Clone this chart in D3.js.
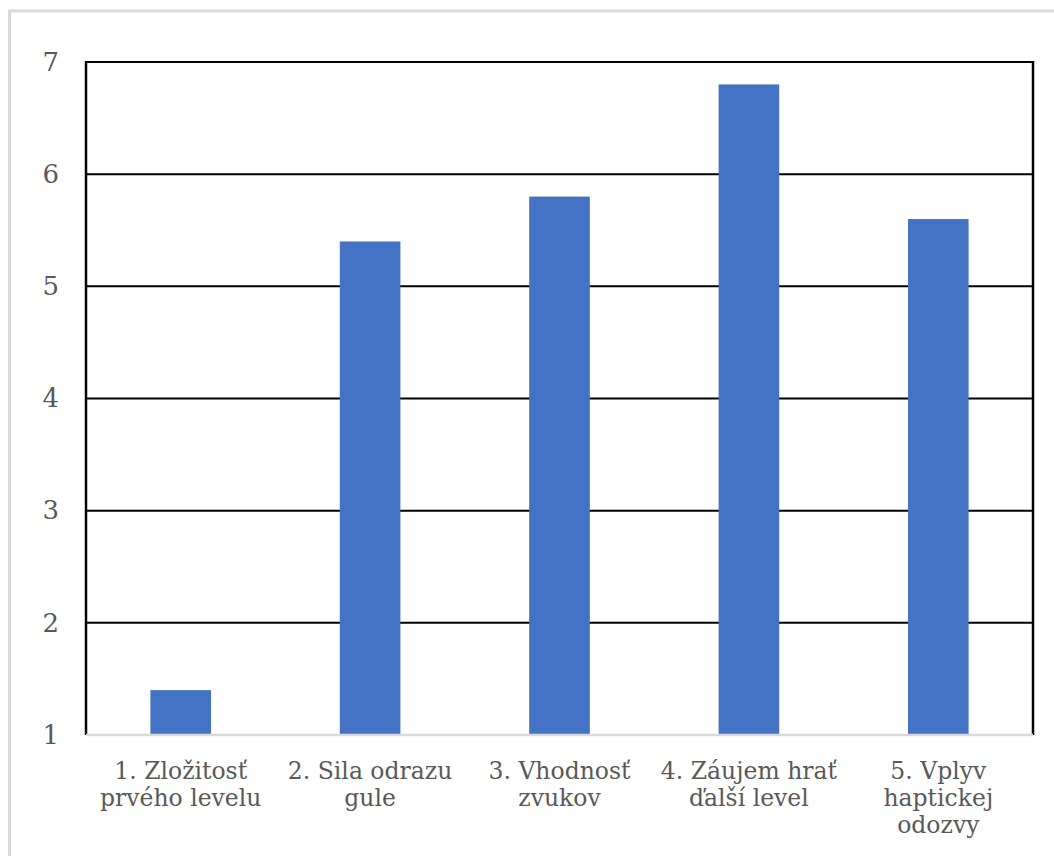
<!DOCTYPE html>
<html>
<head>
<meta charset="utf-8">
<script src="https://cdn.jsdelivr.net/npm/d3@7"></script>
<style>
  body { margin: 0; background: #fff; }
  svg text { font-family: "DejaVu Serif", serif; fill: #595959; }
</style>
</head>
<body>
<div id="chart"></div>
<script>
// Chart data
const categories = [
  ['1. Zložitosť', 'prvého levelu'],
  ['2. Sila odrazu', 'gule'],
  ['3. Vhodnosť', 'zvukov'],
  ['4. Záujem hrať', 'ďalší level'],
  ['5. Vplyv', 'haptickej', 'odozvy']
];
const values = [1.4, 5.4, 5.8, 6.8, 5.6];
const yTicks = [1, 2, 3, 4, 5, 6, 7];

const width = 1054;
const height = 856;
const margin = { top: 62, right: 21, bottom: 121, left: 86 };

const svg = d3.select('#chart')
  .append('svg')
  .attr('width', width)
  .attr('height', height);

// outer chart frame (runs off the right and bottom edge)
svg.append('rect')
  .attr('x', 9.5)
  .attr('y', 11)
  .attr('width', width + 20)
  .attr('height', height + 20)
  .attr('fill', 'none')
  .attr('stroke', '#d9d9d9')
  .attr('stroke-width', 3);

const x = d3.scaleBand()
  .domain(d3.range(categories.length))
  .range([margin.left, width - margin.right])
  .paddingInner(0.68)
  .paddingOuter(0.34);

const y = d3.scaleLinear()
  .domain([1, 7])
  .range([height - margin.bottom, margin.top]);

// gridlines
svg.append('g')
  .selectAll('line')
  .data(yTicks.filter(d => d > 1))
  .enter()
  .append('line')
  .attr('x1', margin.left)
  .attr('x2', width - margin.right)
  .attr('y1', d => y(d))
  .attr('y2', d => y(d))
  .attr('stroke', '#000')
  .attr('stroke-width', 2);

// left and right border lines
[margin.left, width - margin.right].forEach(px => {
  svg.append('line')
    .attr('x1', px).attr('x2', px)
    .attr('y1', y(7) - 1).attr('y2', y(1))
    .attr('stroke', '#000')
    .attr('stroke-width', 2.5);
});

// bars
svg.append('g')
  .selectAll('rect')
  .data(values)
  .enter()
  .append('rect')
  .attr('x', (d, i) => x(i))
  .attr('y', d => y(d))
  .attr('width', x.bandwidth())
  .attr('height', d => y(1) - y(d))
  .attr('fill', '#4472c4');

// y axis labels
const yAxis = svg.append('g')
  .attr('transform', `translate(${margin.left},0)`)
  .call(d3.axisLeft(y).tickValues(yTicks).tickSize(0).tickPadding(27).tickFormat(d3.format('d')));
yAxis.select('.domain').remove();
yAxis.attr('font-family', null);
yAxis.selectAll('text')
  .attr('font-size', 26)
  .attr('fill', '#595959');

// x axis line
svg.append('line')
  .attr('x1', margin.left)
  .attr('x2', width - margin.right)
  .attr('y1', y(1))
  .attr('y2', y(1))
  .attr('stroke', '#d9d9d9')
  .attr('stroke-width', 2.5);

// category labels
const xc = d3.scaleBand().domain(d3.range(categories.length)).range([margin.left, width - margin.right]);
const lab = svg.append('g')
  .selectAll('text')
  .data(categories)
  .enter()
  .append('text')
  .attr('text-anchor', 'middle')
  .attr('font-size', 23.5)
  .attr('x', (d, i) => xc(i) + xc.bandwidth() / 2)
  .attr('y', 779);

lab.selectAll('tspan')
  .data(d => d)
  .enter()
  .append('tspan')
  .attr('x', function () { return d3.select(this.parentNode).attr('x'); })
  .attr('dy', (d, i) => i === 0 ? 0 : 27)
  .text(d => d);
</script>
</body>
</html>
